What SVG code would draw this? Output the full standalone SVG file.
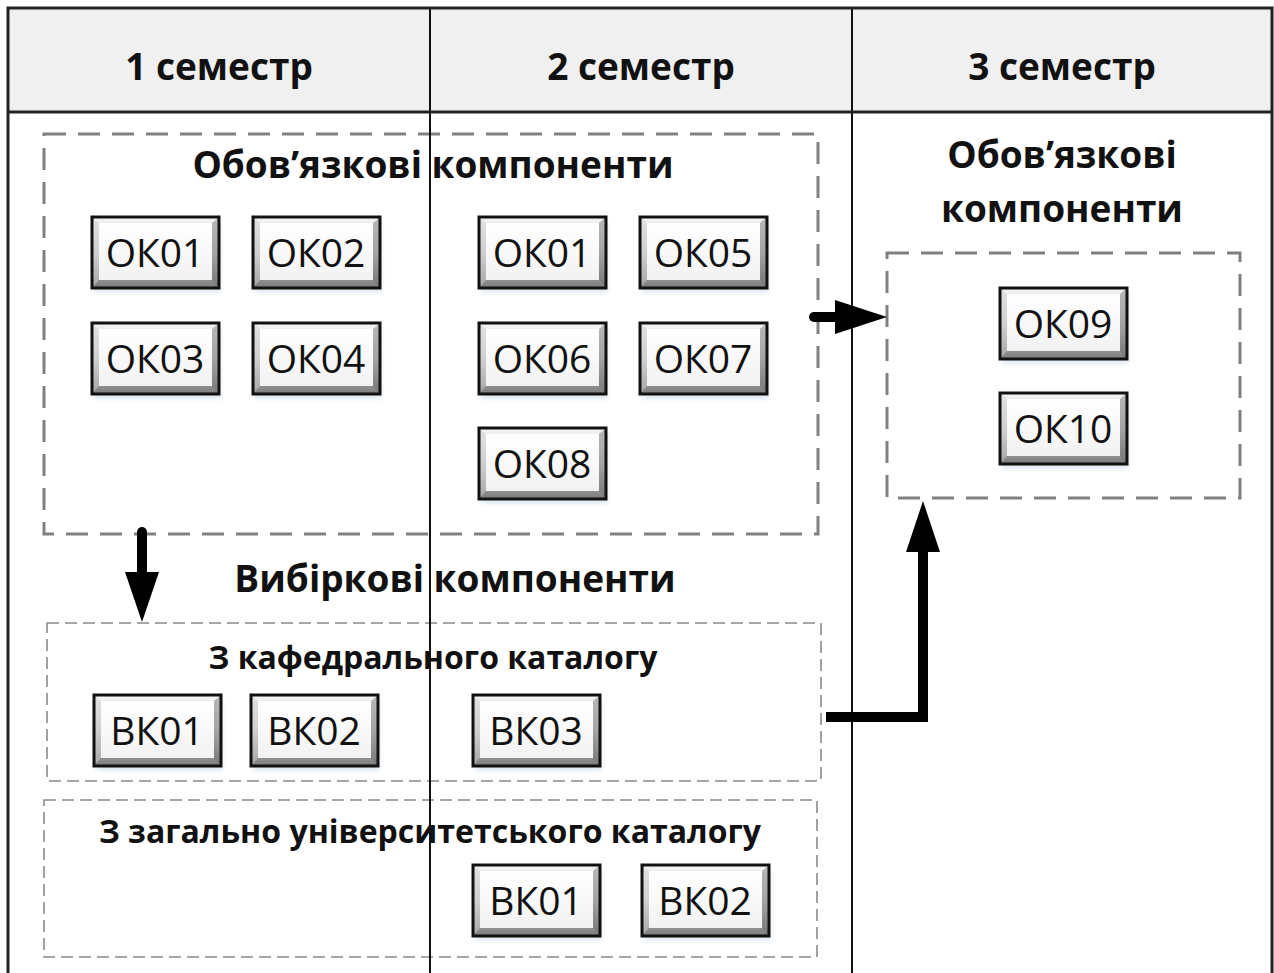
<svg xmlns="http://www.w3.org/2000/svg" xmlns:xlink="http://www.w3.org/1999/xlink" width="1274" height="973" viewBox="0 0 1274 973">
  <style>
    .hdr { font-family: "Open Sans", "Noto Sans", sans-serif; font-weight: 700; font-size: 37px; fill: #111; text-anchor: middle; }
    .ttl { font-family: "Open Sans", "Noto Sans", sans-serif; font-weight: 700; font-size: 37px; fill: #111; text-anchor: middle; }
    .sub { font-family: "Open Sans", "Noto Sans", sans-serif; font-weight: 700; font-size: 32px; fill: #111; text-anchor: middle; }
    .lbl { font-family: "Open Sans", "Noto Sans", sans-serif; font-weight: 400; font-size: 39px; fill: #111; text-anchor: middle; }
    .grp { fill: none; stroke: #808080; stroke-width: 3; stroke-dasharray: 22 12; }
    .grp-thin { fill: none; stroke: #8a8a8a; stroke-width: 1.6; stroke-dasharray: 12 6; }
    .grid { stroke: #111; stroke-width: 2; fill: none; }
    .wire { stroke: #000; stroke-width: 10; fill: none; }
  </style>
  <defs>
    <linearGradient id="bevel" x1="0" y1="0" x2="0" y2="1">
      <stop offset="0" stop-color="#f4f4f4"/>
      <stop offset="0.5" stop-color="#d0d0d0"/>
      <stop offset="1" stop-color="#7c7c7c"/>
    </linearGradient>
    <linearGradient id="face" x1="0" y1="0" x2="0" y2="1">
      <stop offset="0" stop-color="#ffffff"/>
      <stop offset="1" stop-color="#f2f2f2"/>
    </linearGradient>
    <filter id="glow" x="-10%" y="-10%" width="120%" height="130%">
      <feGaussianBlur stdDeviation="2"/>
    </filter>
    <!-- bevelled button shape, 127 x 71 -->
    <g id="btn">
      <rect x="2" y="5" width="127" height="71" fill="#cfdcec" opacity="0.6" filter="url(#glow)"/>
      <rect x="0" y="0" width="127" height="71" fill="url(#bevel)"/>
      <rect x="7" y="6" width="113" height="57" fill="url(#face)"/>
      <path d="M0,0 L7,6 L7,63 L0,71 Z" fill="#d0d0d0" opacity="0.5"/>
      <path d="M127,0 L120,6 L120,63 L127,71 Z" fill="#6e6e6e" opacity="0.45"/>
      <rect x="0" y="0" width="127" height="71" fill="none" stroke="#111" stroke-width="3"/>
    </g>
  </defs>

  <rect x="0" y="0" width="1274" height="973" fill="#ffffff"/>

  <!-- header row -->
  <g id="header">
    <rect x="8" y="8" width="1264" height="104" fill="#f0f0f0"/>
    <text class="hdr" x="219" y="80">1 семестр</text>
    <text class="hdr" x="641" y="80">2 семестр</text>
    <text class="hdr" x="1062" y="80">3 семестр</text>
  </g>

  <!-- group frames and captions -->
  <g id="mandatory-1-2">
    <rect class="grp" x="44" y="134" width="774" height="400"/>
    <text class="ttl" x="433" y="178">Обов’язкові компоненти</text>
  </g>
  <g id="mandatory-3">
    <text class="ttl" x="1062" y="168">Обов’язкові</text>
    <text class="ttl" x="1062" y="222">компоненти</text>
    <rect class="grp" x="887" y="253" width="353" height="245"/>
  </g>
  <g id="elective">
    <text class="ttl" x="455" y="592">Вибіркові компоненти</text>
  </g>
  <g id="elective-dept">
    <rect class="grp-thin" x="47" y="623" width="774" height="158"/>
    <text class="sub" x="433" y="669">З кафедрального каталогу</text>
  </g>
  <g id="elective-univ">
    <rect class="grp-thin" x="44" y="800" width="773" height="157"/>
    <text class="sub" x="430" y="843">З загально університетського каталогу</text>
  </g>

  <!-- semester 1 -->
  <g id="s1-ok01"><use xlink:href="#btn" x="92" y="217"/><text class="lbl" x="155" y="267">ОК01</text></g>
  <g id="s1-ok02"><use xlink:href="#btn" x="253" y="217"/><text class="lbl" x="316" y="267">ОК02</text></g>
  <g id="s1-ok03"><use xlink:href="#btn" x="92" y="323"/><text class="lbl" x="155" y="373">ОК03</text></g>
  <g id="s1-ok04"><use xlink:href="#btn" x="253" y="323"/><text class="lbl" x="316" y="373">ОК04</text></g>

  <!-- semester 2 -->
  <g id="s2-ok01"><use xlink:href="#btn" x="479" y="217"/><text class="lbl" x="542" y="267">ОК01</text></g>
  <g id="s2-ok05"><use xlink:href="#btn" x="640" y="217"/><text class="lbl" x="703" y="267">ОК05</text></g>
  <g id="s2-ok06"><use xlink:href="#btn" x="479" y="323"/><text class="lbl" x="542" y="373">ОК06</text></g>
  <g id="s2-ok07"><use xlink:href="#btn" x="640" y="323"/><text class="lbl" x="703" y="373">ОК07</text></g>
  <g id="s2-ok08"><use xlink:href="#btn" x="479" y="428"/><text class="lbl" x="542" y="478">ОК08</text></g>

  <!-- semester 3 -->
  <g id="s3-ok09"><use xlink:href="#btn" x="1000" y="288"/><text class="lbl" x="1063" y="338">ОК09</text></g>
  <g id="s3-ok10"><use xlink:href="#btn" x="1000" y="393"/><text class="lbl" x="1063" y="443">ОК10</text></g>

  <!-- electives -->
  <g id="dept-vk01"><use xlink:href="#btn" x="94" y="695"/><text class="lbl" x="157" y="745">ВК01</text></g>
  <g id="dept-vk02"><use xlink:href="#btn" x="251" y="695"/><text class="lbl" x="314" y="745">ВК02</text></g>
  <g id="dept-vk03"><use xlink:href="#btn" x="473" y="695"/><text class="lbl" x="536" y="745">ВК03</text></g>
  <g id="univ-vk01"><use xlink:href="#btn" x="473" y="865"/><text class="lbl" x="536" y="915">ВК01</text></g>
  <g id="univ-vk02"><use xlink:href="#btn" x="642" y="865"/><text class="lbl" x="705" y="915">ВК02</text></g>

  <!-- table grid -->
  <g id="grid">
    <line class="grid" x1="430" y1="8" x2="430" y2="973"/>
    <line class="grid" x1="852" y1="8" x2="852" y2="973"/>
    <line x1="8" y1="112" x2="1272" y2="112" stroke="#222" stroke-width="3"/>
    <path d="M8,973 V8 H1272 V973" fill="none" stroke="#222" stroke-width="3"/>
  </g>

  <!-- connectors -->
  <g id="connectors">
    <path class="wire" d="M142,532 V575" stroke-linecap="round"/>
    <polygon points="125,572 159,572 142,622"/>
    <path class="wire" d="M814,317 H840" stroke-linecap="round"/>
    <polygon points="835,300 835,334 887,317"/>
    <path class="wire" d="M826,717 H923 V548"/>
    <polygon points="906,552 940,552 923,501"/>
  </g>
</svg>
